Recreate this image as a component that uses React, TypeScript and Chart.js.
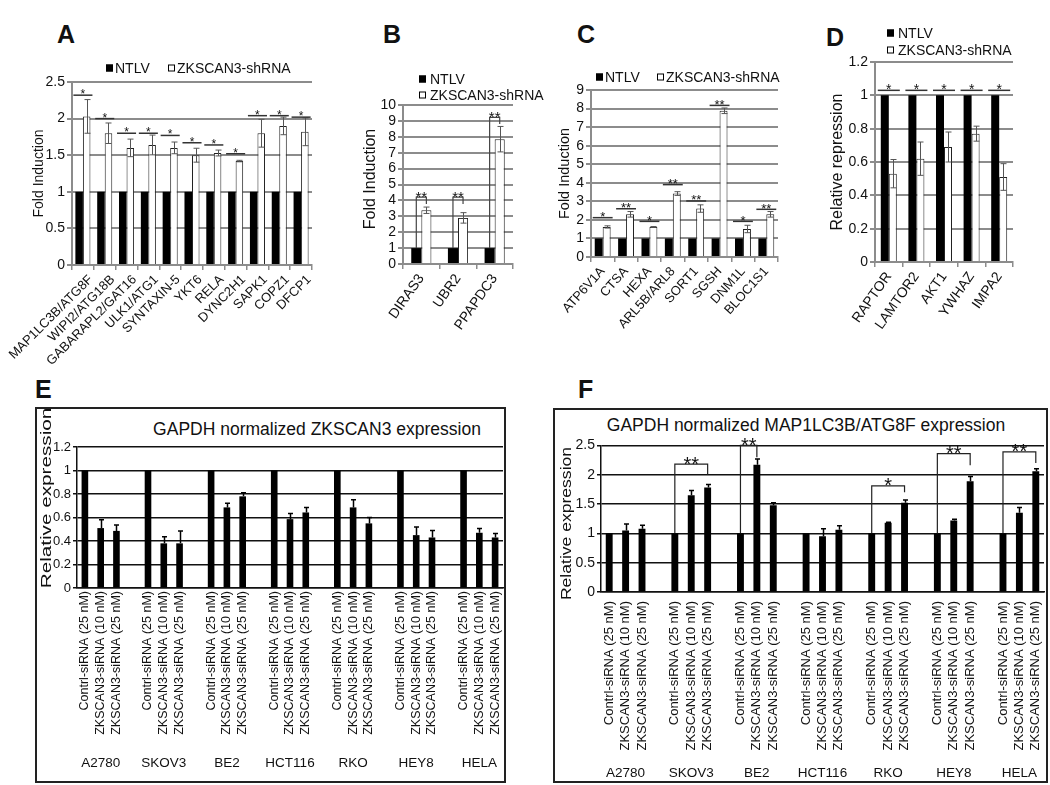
import React, { useEffect, useRef } from "react";
import { Chart, registerables } from "chart.js";

Chart.register(...registerables);

const FONT = "'Liberation Sans', Arial, Helvetica, sans-serif";
const INK = "#111";
const GRAY = "#8c8c8c";

// ---------------- Panel A ----------------
const A_GENES = ["MAP1LC3B/ATG8F", "WIPI2/ATG18B", "GABARAPL2/GAT16", "ULK1/ATG1", "SYNTAXIN-5", "YKT6", "RELA", "DYNC2H1", "SAPK1", "COPZ1", "DFCP1"];
const A_NTLV = [1, 1, 1, 1, 1, 1, 1, 1, 1, 1, 1];
const A_SHRNA = [2.03, 1.8, 1.6, 1.64, 1.6, 1.5, 1.53, 1.42, 1.8, 1.9, 1.82];
const A_SHRNA_ERR = [0.23, 0.14, 0.12, 0.135, 0.08, 0.095, 0.04, 0.01, 0.19, 0.12, 0.19];
const A_SIG = ["*", "*", "*", "*", "*", "*", "*", "*", "*", "*", "*"];
const A_SIG_LEVEL = [2.32, 2.0, 1.8, 1.8, 1.77, 1.67, 1.64, 1.52, 2.04, 2.04, 2.02];

// ---------------- Panel B ----------------
const B_GENES = ["DIRAS3", "UBR2", "PPAPDC3"];
const B_NTLV = [1, 1, 1];
const B_SHRNA = [3.38, 2.9, 7.85];
const B_SHRNA_ERR = [0.2, 0.33, 0.8];
const B_SIG = ["**", "**", "**"];
const B_SIG_TOP = [4.2, 4.2, 9.22];
const B_SIG_END = [3.78, 3.78, 8.8];

// ---------------- Panel C ----------------
const C_GENES = ["ATP6V1A", "CTSA", "HEXA", "ARL5B/ARL8", "SORT1", "SGSH", "DNM1L", "BLOC1S1"];
const C_NTLV = [1, 1, 1, 1, 1, 1, 1, 1];
const C_SHRNA = [1.62, 2.3, 1.62, 3.42, 2.61, 7.88, 1.51, 2.3];
const C_SHRNA_ERR = [0.06, 0.15, 0.02, 0.1, 0.2, 0.15, 0.2, 0.15];
const C_SIG = ["*", "**", "*", "**", "**", "**", "*", "**"];
const C_SIG_LEVEL = [2.12, 2.6, 1.92, 3.9, 3.02, 8.17, 1.92, 2.57];

// ---------------- Panel D ----------------
const D_GENES = ["RAPTOR", "LAMTOR2", "AKT1", "YWHAZ", "IMPA2"];
const D_NTLV = [1, 1, 1, 1, 1];
const D_SHRNA = [0.53, 0.62, 0.69, 0.77, 0.51];
const D_SHRNA_ERR = [0.085, 0.1, 0.09, 0.045, 0.08];
const D_SIG = ["*", "*", "*", "*", "*"];
const D_SIG_LEVEL = [1.03, 1.03, 1.03, 1.03, 1.03];

// ---------------- Panels E and F ----------------
const CELL_LINES = ["A2780", "SKOV3", "BE2", "HCT116", "RKO", "HEY8", "HELA"];
const SIRNA_CONDITIONS = ["Contrl-siRNA (25 nM)", "ZKSCAN3-siRNA (10 nM)", "ZKSCAN3-siRNA (25 nM)"];

const E_CONTROL = [1, 1, 1, 1, 1, 1, 1];
const E_SI10 = [0.51, 0.38, 0.686, 0.586, 0.686, 0.45, 0.47];
const E_SI25 = [0.486, 0.38, 0.78, 0.643, 0.55, 0.43, 0.43];
const E_SI10_ERR = [0.07, 0.057, 0.035, 0.048, 0.065, 0.07, 0.036];
const E_SI25_ERR = [0.051, 0.106, 0.03, 0.043, 0.05, 0.06, 0.033];

const F_CONTROL = [1, 1, 1, 1, 1, 1, 1];
const F_SI10 = [1.05, 1.65, 2.17, 0.95, 1.18, 1.22, 1.35];
const F_SI25 = [1.08, 1.78, 1.48, 1.06, 1.52, 1.89, 2.06];
const F_SI10_ERR = [0.11, 0.08, 0.1, 0.13, 0.01, 0.02, 0.09];
const F_SI25_ERR = [0.06, 0.055, 0.04, 0.07, 0.05, 0.08, 0.04];
const F_SIG_LINE = ["SKOV3", "BE2", "RKO", "HEY8", "HELA"];
const F_SIG_TO = [2, 1, 2, 2, 2];
const F_SIG_TOP = [2.18, 2.5, 1.81, 2.36, 2.39];
const F_SIG_END = [2.0, 2.3, 1.7, 2.16, 2.2];
const F_SIG = ["**", "**", "*", "**", "**"];

const fmt = (v: any) => String(parseFloat(Number(v).toFixed(2)));

function flatten(a: number[], b: number[], c: number[]): (number | null)[] {
  const out: (number | null)[] = [];
  a.forEach((_, g) => {
    if (g) out.push(null);
    out.push(a[g], b[g], c[g]);
  });
  return out;
}
const SLOT_LABELS = CELL_LINES.flatMap((_, g) => (g ? ["", ...SIRNA_CONDITIONS] : [...SIRNA_CONDITIONS]));
const slot = (g: number, j: number) => g * 4 + j;

// ---------------- drawing helpers (plugin) ----------------
function overlay(cfg: any) {
  return {
    id: "overlay",
    afterDatasetsDraw(chart: any) {
      const ctx = chart.ctx as CanvasRenderingContext2D;
      const ys = chart.scales.y;
      ctx.save();
      const e = cfg.errors;
      if (e) {
        const meta = chart.getDatasetMeta(e.ds);
        ctx.strokeStyle = e.color;
        ctx.lineWidth = e.width;
        meta.data.forEach((bar: any, i: number) => {
          const v = e.values[i];
          const d = e.errs[i];
          if (v == null || !d) return;
          const x = Math.round(bar.x) + 0.5;
          const yt = ys.getPixelForValue(v + d);
          const yb = ys.getPixelForValue(e.both ? v - d : v);
          ctx.beginPath();
          ctx.moveTo(x, yt);
          ctx.lineTo(x, yb);
          ctx.moveTo(x - e.cap / 2, yt);
          ctx.lineTo(x + e.cap / 2, yt);
          if (e.both) {
            ctx.moveTo(x - e.cap / 2, yb);
            ctx.lineTo(x + e.cap / 2, yb);
          }
          ctx.stroke();
        });
      }
      const s = cfg.sig;
      if (s) {
        const m0 = chart.getDatasetMeta(0);
        const m1 = chart.getDatasetMeta(1);
        ctx.font = `${s.size}px ${FONT}`;
        ctx.textAlign = "center";
        ctx.textBaseline = "alphabetic";
        ctx.fillStyle = INK;
        ctx.strokeStyle = s.color;
        ctx.lineWidth = s.width;
        s.marks.forEach((t: string, i: number) => {
          const b0 = m0.data[i];
          const b1 = m1.data[i];
          const x0 = b0.x - b0.width / 2 - s.ext;
          const x1 = b1.x + b1.width / 2 + s.ext;
          const yy = ys.getPixelForValue(s.levels[i]);
          ctx.beginPath();
          ctx.moveTo(x0, yy);
          ctx.lineTo(x1, yy);
          ctx.stroke();
          ctx.fillText(t, (x0 + x1) / 2, yy + s.size * 0.42 - s.gap);
        });
      }
      const br = cfg.brackets;
      if (br) {
        ctx.font = `${br.size}px ${FONT}`;
        ctx.textAlign = "center";
        ctx.textBaseline = "alphabetic";
        ctx.fillStyle = INK;
        ctx.strokeStyle = br.color;
        ctx.lineWidth = br.width;
        br.items.forEach((b: any) => {
          const xa = chart.getDatasetMeta(b.a[0]).data[b.a[1]].x;
          const xb = chart.getDatasetMeta(b.b[0]).data[b.b[1]].x;
          const yTop = ys.getPixelForValue(b.top);
          const yA = ys.getPixelForValue(b.startLo);
          const yB = ys.getPixelForValue(b.endLo);
          ctx.beginPath();
          ctx.moveTo(xa, yA);
          ctx.lineTo(xa, yTop);
          ctx.lineTo(xb, yTop);
          ctx.lineTo(xb, yB);
          ctx.stroke();
          ctx.fillText(b.text, (xa + xb) / 2, yTop + br.size * 0.42 - br.gap);
        });
      }
      ctx.restore();
    },
    afterDraw(chart: any) {
      const ctx = chart.ctx as CanvasRenderingContext2D;
      ctx.save();
      const lg = cfg.legend;
      if (lg) {
        ctx.font = `${lg.size}px ${FONT}`;
        ctx.textAlign = "left";
        ctx.textBaseline = "middle";
        chart.data.datasets.forEach((ds: any, i: number) => {
          const [x, y] = lg.at[i];
          ctx.fillStyle = ds.backgroundColor;
          ctx.fillRect(x, y - lg.box / 2, lg.box, lg.box);
          ctx.strokeStyle = "#000";
          ctx.lineWidth = 1;
          ctx.strokeRect(x + 0.5, y - lg.box / 2 + 0.5, lg.box - 1, lg.box - 1);
          ctx.fillStyle = INK;
          ctx.fillText(ds.label, x + lg.box + lg.gap, y + 1);
        });
      }
      const yt = cfg.yTitle;
      if (yt) {
        const ca = chart.chartArea;
        const cy = yt.y != null ? yt.y : (ca.top + ca.bottom) / 2;
        ctx.translate(yt.x, cy);
        ctx.rotate(-Math.PI / 2);
        ctx.scale(yt.stretch || 1, 1);
        ctx.font = `${yt.size}px ${FONT}`;
        ctx.textAlign = "center";
        ctx.textBaseline = "middle";
        ctx.fillStyle = INK;
        ctx.fillText(yt.text, 0, 0);
        ctx.setTransform(1, 0, 0, 1, 0, 0);
      }
      const gr = cfg.groups;
      if (gr) {
        const xs = chart.scales.x;
        ctx.font = `${gr.size}px ${FONT}`;
        ctx.textAlign = "center";
        ctx.textBaseline = "middle";
        ctx.fillStyle = INK;
        gr.labels.forEach((t: string, g: number) => {
          ctx.fillText(t, xs.getPixelForValue(slot(g, 1)), chart.chartArea.bottom + gr.dy);
        });
      }
      ctx.restore();
    },
  };
}

function yAxis(max: number, step: number, size: number, color: string, lw: number, width: number, tickLen: number) {
  return {
    min: 0,
    max,
    ticks: { stepSize: step, autoSkip: false, color: INK, font: { family: FONT, size }, padding: 2, callback: fmt },
    grid: { color, lineWidth: lw, tickLength: tickLen, drawTicks: true },
    border: { display: true, color, width: lw },
    afterFit: (sc: any) => {
      sc.width = width;
    },
  };
}

function grouped(o: any) {
  return {
    type: "bar",
    data: {
      labels: o.labels,
      datasets: [
        { label: "NTLV", data: o.ntlv, backgroundColor: "#000", borderColor: "#000", borderWidth: 0, categoryPercentage: o.catPct, barPercentage: 1 },
        { label: "ZKSCAN3-shRNA", data: o.sh, backgroundColor: "#fff", borderColor: "#222", borderWidth: 1, borderSkipped: "bottom", categoryPercentage: o.catPct, barPercentage: 1 },
      ],
    },
    options: {
      responsive: false,
      animation: false,
      events: [],
      layout: { padding: { top: o.padTop, right: o.padRight, left: 0, bottom: 0 } },
      plugins: { legend: { display: false }, tooltip: { enabled: false } },
      scales: {
        x: {
          type: "category",
          offset: true,
          grid: { display: true, drawOnChartArea: false, offset: true, color: GRAY, lineWidth: 1.5, tickLength: 5 },
          border: { display: true, color: GRAY, width: 2 },
          ticks: {
            autoSkip: false, minRotation: o.rot, maxRotation: o.rot, color: INK,
            font: { family: FONT, size: o.labelSize }, padding: 2, labelOffset: o.labelOffset || 0,
          },
          afterFit: (sc: any) => {
            sc.height = o.xHeight;
            sc.paddingLeft = 0;
            sc.paddingRight = 0;
          },
        },
        y: yAxis(o.max, o.step, o.tickSize, GRAY, 2, o.yWidth, 5),
      },
    },
    plugins: [overlay(o.overlay)],
  };
}

function siRNAChart(o: any) {
  const values = flatten(o.ctrl, o.si10, o.si25);
  const errs = flatten(o.ctrl.map(() => 0), o.si10Err, o.si25Err).map((v) => v || 0);
  return {
    type: "bar",
    data: {
      labels: SLOT_LABELS,
      datasets: [{ label: o.name, data: values, backgroundColor: "#000", borderWidth: 0, categoryPercentage: 1, barPercentage: 0.42 }],
    },
    options: {
      responsive: false,
      animation: false,
      events: [],
      layout: { padding: { top: o.padTop, right: o.padRight, left: 0, bottom: 0 } },
      plugins: { legend: { display: false }, tooltip: { enabled: false } },
      scales: {
        x: {
          type: "category",
          offset: true,
          grid: { display: true, drawOnChartArea: false, drawTicks: false },
          border: { display: true, color: INK, width: 1.5 },
          ticks: { autoSkip: false, minRotation: 90, maxRotation: 90, color: INK, font: { family: FONT, size: o.labelSize }, padding: o.labelPad },
          afterFit: (sc: any) => {
            sc.height = o.xHeight;
            sc.paddingLeft = 0;
            sc.paddingRight = 0;
          },
        },
        y: yAxis(o.max, o.step, o.tickSize, INK, 1.5, o.yWidth, 4),
      },
    },
    plugins: [
      overlay({
        errors: { ds: 0, values, errs, both: false, cap: 5, color: "#000", width: 1.5 },
        brackets: o.brackets,
        yTitle: o.yTitle,
        groups: { labels: CELL_LINES, dy: o.groupDy, size: 13.5 },
      }),
    ],
  };
}

function ChartCanvas({ left, top, width, height, build }: any) {
  const ref = useRef<HTMLCanvasElement | null>(null);
  useEffect(() => {
    const chart = new Chart(ref.current as HTMLCanvasElement, build());
    return () => chart.destroy();
  }, []);
  return <canvas ref={ref} width={width} height={height} style={{ position: "absolute", left, top, width, height }} />;
}

const letterStyle = (left: number, top: number, size = 25): React.CSSProperties => ({
  position: "absolute",
  left,
  top,
  fontFamily: FONT,
  fontWeight: "bold",
  fontSize: size,
  lineHeight: `${size}px`,
  color: INK,
});

const titleStyle = (cx: number, cy: number): React.CSSProperties => ({
  position: "absolute",
  left: cx - 260,
  width: 520,
  top: cy - 10,
  lineHeight: "20px",
  textAlign: "center",
  fontFamily: FONT,
  fontSize: 17.5,
  color: INK,
  whiteSpace: "nowrap",
});

export default function App() {
  const buildA = () =>
    grouped({
      labels: A_GENES, ntlv: A_NTLV, sh: A_SHRNA, catPct: 0.69, rot: 45, labelSize: 13, labelOffset: 8,
      padTop: 27, padRight: 4, xHeight: 135, yWidth: 72, max: 2.5, step: 0.5, tickSize: 14,
      overlay: {
        legend: { at: [[106, 13], [168, 13]], box: 7, gap: 2, size: 14 },
        yTitle: { text: "Fold Induction", x: 39, size: 14 },
        errors: { ds: 1, values: A_SHRNA, errs: A_SHRNA_ERR, both: true, cap: 6, color: "#555", width: 1 },
        sig: { marks: A_SIG, levels: A_SIG_LEVEL, ext: 2, size: 12, gap: 2, color: "#333", width: 1.5 },
      },
    });

  const buildB = () =>
    grouped({
      labels: B_GENES, ntlv: B_NTLV, sh: B_SHRNA, catPct: 0.55, rot: 55, labelSize: 14,
      padTop: 45, padRight: 32, xHeight: 136, yWidth: 73, max: 10, step: 1, tickSize: 14,
      overlay: {
        legend: { at: [[89, 19], [89, 35]], box: 7, gap: 4, size: 14 },
        yTitle: { text: "Fold Induction", x: 41, y: 119, size: 16 },
        errors: { ds: 1, values: B_SHRNA, errs: B_SHRNA_ERR, both: true, cap: 6, color: "#555", width: 1 },
        brackets: {
          size: 15, gap: 2, color: "#444", width: 1.2,
          items: B_SIG.map((t, i) => ({ a: [0, i], b: [1, i], startLo: B_NTLV[i], top: B_SIG_TOP[i], endLo: B_SIG_END[i], text: t })),
        },
      },
    });

  const buildC = () =>
    grouped({
      labels: C_GENES, ntlv: C_NTLV, sh: C_SHRNA, catPct: 0.68, rot: 48, labelSize: 13,
      padTop: 35, padRight: 7, xHeight: 143, yWidth: 61, max: 9, step: 1, tickSize: 14,
      overlay: {
        legend: { at: [[66, 22], [127, 22]], box: 7, gap: 2, size: 14 },
        yTitle: { text: "Fold Induction", x: 35, size: 14.5 },
        errors: { ds: 1, values: C_SHRNA, errs: C_SHRNA_ERR, both: true, cap: 6, color: "#555", width: 1 },
        sig: { marks: C_SIG, levels: C_SIG_LEVEL, ext: 2, size: 13, gap: 2, color: "#333", width: 1.5 },
      },
    });

  const buildD = () =>
    grouped({
      labels: D_GENES, ntlv: D_NTLV, sh: D_SHRNA, catPct: 0.58, rot: 55, labelSize: 14,
      padTop: 42, padRight: 7, xHeight: 138, yWidth: 85, max: 1.2, step: 0.2, tickSize: 14,
      overlay: {
        legend: { at: [[97, 13], [97, 30]], box: 7, gap: 4, size: 14 },
        yTitle: { text: "Relative repression", x: 48, size: 16 },
        errors: { ds: 1, values: D_SHRNA, errs: D_SHRNA_ERR, both: true, cap: 6, color: "#555", width: 1 },
        sig: { marks: D_SIG, levels: D_SIG_LEVEL, ext: 3, size: 14, gap: 2, color: "#333", width: 1.5 },
      },
    });

  const buildE = () =>
    siRNAChart({
      name: "ZKSCAN3", ctrl: E_CONTROL, si10: E_SI10, si25: E_SI25, si10Err: E_SI10_ERR, si25Err: E_SI25_ERR,
      padTop: 38, padRight: 1, xHeight: 192, yWidth: 40, max: 1.2, step: 0.2, tickSize: 13, labelSize: 12.5, labelPad: 3,
      groupDy: 175,
      yTitle: { text: "Relative expression", x: 10, y: 89, size: 15, stretch: 1.38 },
    });

  const buildF = () =>
    siRNAChart({
      name: "MAP1LC3B/ATG8F", ctrl: F_CONTROL, si10: F_SI10, si25: F_SI25, si10Err: F_SI10_ERR, si25Err: F_SI25_ERR,
      padTop: 10, padRight: 1, xHeight: 188, yWidth: 46, max: 2.5, step: 0.5, tickSize: 14, labelSize: 13, labelPad: 9,
      groupDy: 181,
      yTitle: { text: "Relative expression", x: 11.5, y: 88.5, size: 14.5, stretch: 1.21 },
      brackets: {
        size: 20, gap: 2, color: "#222", width: 1.2,
        items: F_SIG.map((t, k) => {
          const g = CELL_LINES.indexOf(F_SIG_LINE[k]);
          return { a: [0, slot(g, 0)], b: [0, slot(g, F_SIG_TO[k])], startLo: F_CONTROL[g], top: F_SIG_TOP[k], endLo: F_SIG_END[k], text: t };
        }),
      },
    });

  return (
    <div style={{ position: "absolute", left: 0, top: 0, width: 1050, height: 785, background: "#fff", overflow: "hidden" }}>
      <div style={letterStyle(57, 22)}>A</div>
      <div style={letterStyle(383, 22)}>B</div>
      <div style={letterStyle(577, 22)}>C</div>
      <div style={letterStyle(826, 25)}>D</div>
      <div style={letterStyle(35, 377)}>E</div>
      <div style={letterStyle(578, 377)}>F</div>

      <div style={{ position: "absolute", left: 35, top: 407, width: 471, height: 376, border: "2px solid #222", boxSizing: "border-box" }} />
      <div style={{ position: "absolute", left: 553, top: 408, width: 495, height: 375, border: "2px solid #222", boxSizing: "border-box" }} />
      <div style={titleStyle(317, 429)}>GAPDH normalized ZKSCAN3 expression</div>
      <div style={titleStyle(806, 425)}>GAPDH normalized MAP1LC3B/ATG8F expression</div>

      <ChartCanvas left={0} top={55} width={316} height={345} build={buildA} />
      <ChartCanvas left={330} top={60} width={215} height={340} build={buildB} />
      <ChartCanvas left={530} top={55} width={255} height={345} build={buildC} />
      <ChartCanvas left={790} top={20} width={230} height={380} build={buildD} />
      <ChartCanvas left={37} top={409} width={467} height={371} build={buildE} />
      <ChartCanvas left={555} top={435} width={490} height={345} build={buildF} />
    </div>
  );
}
